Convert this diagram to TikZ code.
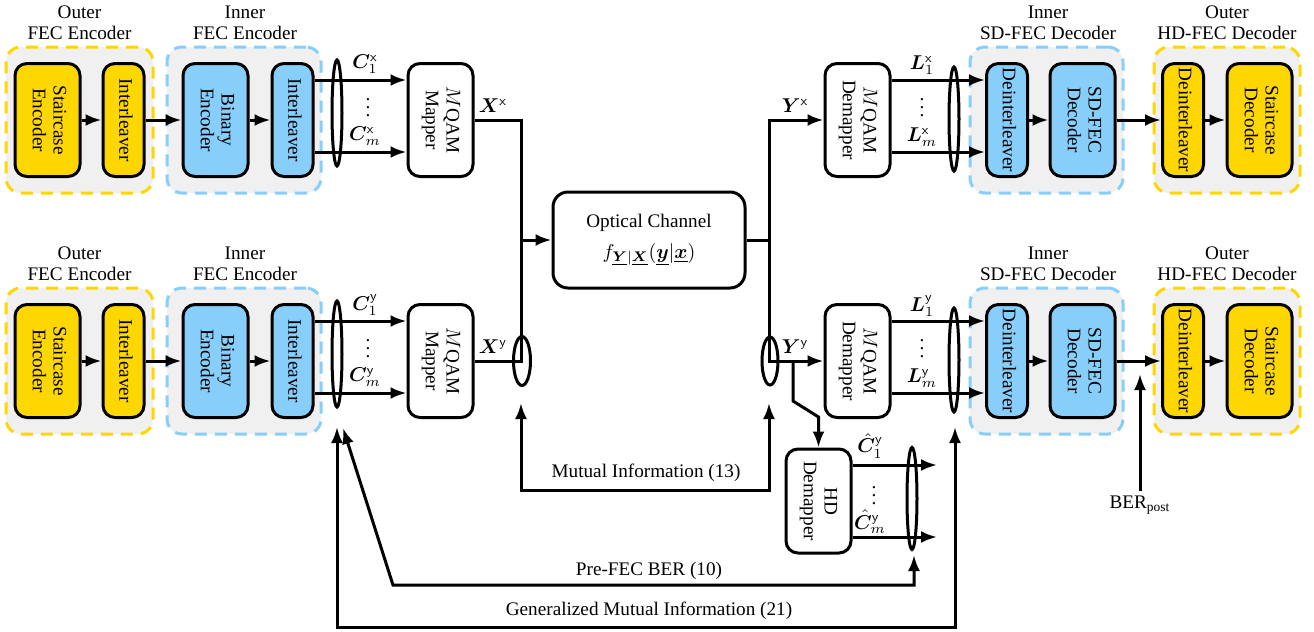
\documentclass[tikz,border=0pt]{standalone}
\usepackage{amsmath,bm}
\usepackage{graphicx}
\usepackage{fontspec}
\setmainfont{Liberation Serif}
\usetikzlibrary{shapes.geometric,arrows.meta}
\definecolor{cgold}{HTML}{FFD700}
\definecolor{cblue}{HTML}{87CEFA}
\definecolor{cgray}{HTML}{F0F0F0}
\newcommand{\rtext}[1]{\rotatebox{-90}{\begin{tabular}{@{}c@{}}#1\end{tabular}}}
\tikzset{
  box/.style={draw, line width=1.5pt, rounded corners=6pt, inner sep=0pt, minimum height=56.5pt},
  yel/.style={box, fill=cgold},
  blu/.style={box, fill=cblue},
  wht/.style={box, fill=white},
  wbox/.style={minimum width=32.5pt},
  nbox/.style={minimum width=20.5pt},
  grp/.style={line width=1.5pt, dash pattern=on 6pt off 4pt, rounded corners=7.5pt, fill=cgray, minimum height=73pt, inner sep=0pt},
  arr/.style={line width=1.5pt, -{Latex[length=8pt,width=6pt]}},
  darr/.style={line width=1.5pt, {Latex[length=8pt,width=6pt]}-{Latex[length=8pt,width=6pt]}},
  ln/.style={line width=1.5pt},
  ell/.style={draw, ellipse, line width=1.5pt, inner sep=0pt},
  ttl/.style={align=center, inner sep=0pt},
  lbl/.style={inner sep=0pt},
}
\begin{document}
\begin{tikzpicture}[x=0.5pt,y=-0.5pt, font=\fontsize{9.6}{10.4}\selectfont]
\useasboundingbox (0,0) rectangle (1314,632);
\foreach \r/\o in {x/0,y/241}{
  % groups
  \node[grp, draw=cgold, minimum width=73.5pt] (go\r) at (79.5,{120+\o}) {};
  \node[grp, draw=cblue, minimum width=77pt] (gi\r) at (244,{120+\o}) {};
  \node[grp, draw=cblue, minimum width=76.5pt] (gd\r) at (1046.5,{120+\o}) {};
  \node[grp, draw=cgold, minimum width=73pt] (gh\r) at (1227,{120+\o}) {};
  % titles
  \node[ttl] (tgo\r) at (79.5,{23+\o}) {Outer\\FEC Encoder};
  \node[ttl] (tgi\r) at (245,{23+\o}) {Inner\\FEC Encoder};
  \node[ttl] (tgd\r) at (1048,{23+\o}) {Inner\\SD-FEC Decoder};
  \node[ttl] (tgh\r) at (1227,{23+\o}) {Outer\\HD-FEC Decoder};
  % boxes
  \node[yel, wbox] (se\r) at (47.5,{120+\o}) {\rtext{Staircase\\Encoder}};
  \node[yel, nbox] (il\r) at (123.5,{120+\o}) {\rtext{Interleaver}};
  \node[blu, wbox] (be\r) at (215.5,{120+\o}) {\rtext{Binary\\Encoder}};
  \node[blu, nbox] (ii\r) at (292.5,{120+\o}) {\rtext{Interleaver}};
  \node[wht, wbox] (map\r) at (440.5,{120+\o}) {\rtext{$M$QAM\\Mapper}};
  \node[wht, wbox] (dem\r) at (857.5,{120+\o}) {\rtext{$M$QAM\\Demapper}};
  \node[blu, nbox] (dil\r) at (1007,{120+\o}) {\rtext{Deinterleaver}};
  \node[blu, wbox] (sdd\r) at (1082.5,{120+\o}) {\rtext{SD-FEC\\Decoder}};
  \node[yel, nbox] (hil\r) at (1183,{120+\o}) {\rtext{Deinterleaver}};
  \node[yel, wbox] (scd\r) at (1259.5,{120+\o}) {\rtext{Staircase\\Decoder}};
  % arrows in chain
  \draw[arr] (se\r.east) -- (il\r.west);
  \draw[arr] (il\r.east) -- (be\r.west);
  \draw[arr] (be\r.east) -- (ii\r.west);
  \draw[arr] (dil\r.east) -- (sdd\r.west);
  \draw[arr] (sdd\r.east) -- (hil\r.west);
  \draw[arr] (hil\r.east) -- (scd\r.west);
  % bit lines to mapper
  \draw[arr] ([yshift=20pt]ii\r.east) -- ([yshift=20pt]map\r.west);
  \draw[arr] ([yshift=-16pt]ii\r.east) -- ([yshift=-16pt]map\r.west);
  \node[ell, minimum width=5pt, minimum height=53pt] (ee\r) at (337,{113+\o}) {};
  \node[lbl] (c1\r) at (365,{64+\o}) {$\boldsymbol{C}_1^{\mathsf{\r}}$};
  \node[lbl] (cm\r) at (365,{136+\o}) {$\boldsymbol{C}_m^{\mathsf{\r}}$};
  \node[lbl] (cd\r) at (368,{102+\o}) {$\vdots$};
  % LLR lines
  \draw[arr] ([yshift=20pt]dem\r.east) -- ([yshift=20pt]dil\r.west);
  \draw[arr] ([yshift=-16pt]dem\r.east) -- ([yshift=-16pt]dil\r.west);
  \node[ell, minimum width=5pt, minimum height=52pt] (ed\r) at (954,{119+\o}) {};
  \node[lbl] (l1\r) at (922,{65+\o}) {$\boldsymbol{L}_1^{\mathsf{\r}}$};
  \node[lbl] (lm\r) at (922,{137+\o}) {$\boldsymbol{L}_m^{\mathsf{\r}}$};
  \node[lbl] (ld\r) at (922,{102+\o}) {$\vdots$};
  % symbol labels
  \node[lbl] (xl\r) at (493,{106+\o}) {$\boldsymbol{X}^{\mathsf{\r}}$};
  \node[lbl] (yl\r) at (795,{106+\o}) {$\boldsymbol{Y}^{\mathsf{\r}}$};
}
% channel
\coordinate (jn) at (521,240);
\draw[ln] (mapx.east) -| (jn);
\draw[ln] (mapy.east) -| (jn);
\node[ell, minimum width=8.5pt, minimum height=24.5pt] (exy) at (522,361) {};
\node[wht, minimum width=96pt, minimum height=48pt, rounded corners=7.5pt, align=center] (ch) at (649,240)
  {Optical Channel\\[5pt]
   $f_{\underline{\boldsymbol{Y}}|\underline{\boldsymbol{X}}}(\underline{\boldsymbol{y}}|\underline{\boldsymbol{x}})$};
\draw[arr] (jn) -- (ch.west);
\coordinate (jo) at (769,240);
\draw[ln] (ch.east) -- (jo);
\draw[arr] (jo) |- (demx.west);
\draw[arr] (jo) |- (demy.west);
\node[ell, minimum width=8pt, minimum height=24pt] (eyy) at (770,361) {};
% HD branch
\coordinate (b1) at (793,361);
\coordinate (b2) at (793,401);
\coordinate (b3) at (818.5,417);
\node[wht, wbox, minimum height=52pt] (hd) at (818.5,501) {\rtext{HD\\Demapper}};
\draw[arr] (b1) -- (b2) -- (b3) -- (hd.north);
\coordinate (he1) at (937,465);
\coordinate (he2) at (937,537);
\draw[arr] (hd.east |- he1) -- (he1);
\draw[arr] (hd.east |- he2) -- (he2);
\node[ell, minimum width=5pt, minimum height=51pt] (eh) at (912,498.5) {};
\node[lbl] (h1) at (870,446) {$\hat{\boldsymbol{C}}_1^{\mathsf{y}}$};
\node[lbl] (hm) at (870,522) {$\hat{\boldsymbol{C}}_m^{\mathsf{y}}$};
\node[lbl] (hdd) at (874,490) {$\vdots$};
% mutual information
\coordinate (mi1) at (521,403);
\coordinate (mi2) at (521,490);
\coordinate (mi3) at (769,490);
\coordinate (mi4) at (769,403);
\draw[darr] (mi1) -- (mi2) -- (mi3) -- (mi4);
\node[lbl] (mil) at (646,473) {Mutual Information (13)};
% pre-FEC BER
\coordinate (p1) at (343,428);
\coordinate (p2) at (393,585);
\coordinate (p3) at (914,585);
\coordinate (p4) at (914,555);
\draw[darr] (p1) -- (p2) -- (p3) -- (p4);
\node[lbl] (pl) at (649,571) {Pre-FEC BER (10)};
% GMI
\coordinate (g1) at (337,427);
\coordinate (g2) at (337,627);
\coordinate (g3) at (955,627);
\coordinate (g4) at (955,427);
\draw[darr] (g1) -- (g2) -- (g3) -- (g4);
\node[lbl] (gl) at (649,611) {Generalized Mutual Information (21)};
% BER post
\node[lbl] (bpl) at (1140,505) {BER\textsubscript{post}};
\coordinate (bpt) at (1140,374);
\draw[arr] ([yshift=2pt]bpl.north) -- (bpt);
\end{tikzpicture}
\end{document}
